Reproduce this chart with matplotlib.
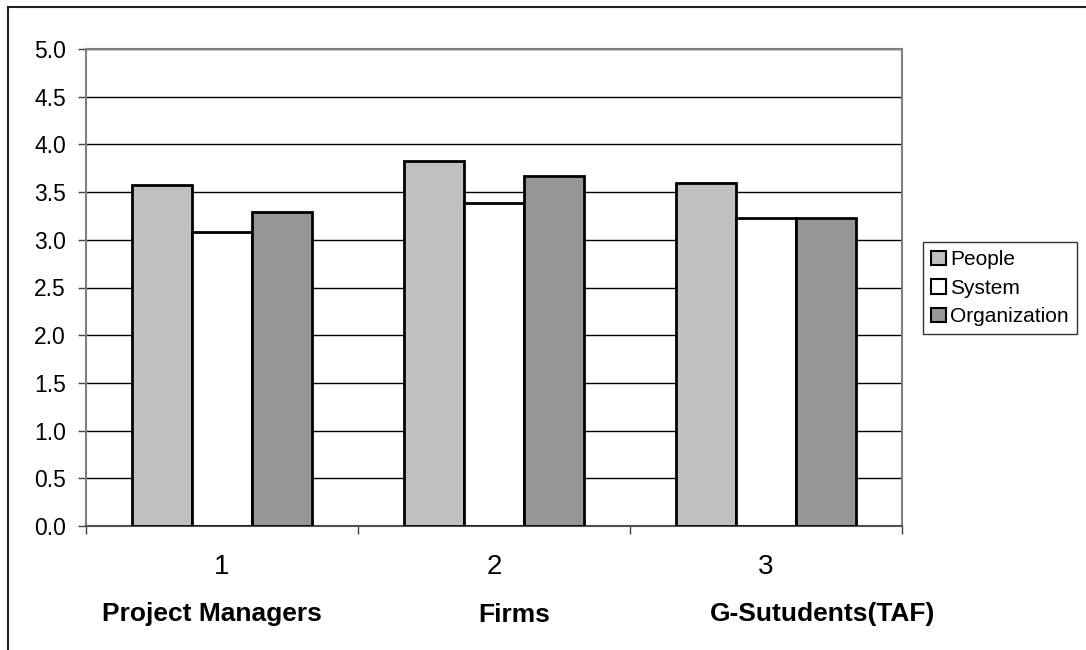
import numpy as np
import matplotlib
matplotlib.use("Agg")
import matplotlib.pyplot as plt
from matplotlib.lines import Line2D

plt.rcParams['font.family'] = ['Liberation Sans', 'DejaVu Sans']

# data
groups = ['1', '2', '3']
group_names = ['Project Managers', 'Firms', 'G-Sutudents(TAF)']
series = ['People', 'System', 'Organization']
people = [3.57, 3.83, 3.60]
system = [3.08, 3.39, 3.23]
organization = [3.29, 3.67, 3.23]
colors = ['#C0C0C0', '#FFFFFF', '#969696']
yticks = [0.0, 0.5, 1.0, 1.5, 2.0, 2.5, 3.0, 3.5, 4.0, 4.5, 5.0]

W, H = 1086, 650
fig = plt.figure(figsize=(W / 100, H / 100), dpi=100)
fig.patch.set_facecolor('white')

# plot area in pixels: x 86..902, y 49..526
ax = fig.add_axes([86 / W, 1 - 526 / H, (902 - 86) / W, (526 - 49) / H])

x = np.arange(len(groups))
bw = 0.221
for i, (vals, name) in enumerate(zip([people, system, organization], series)):
    ax.bar(x + (i - 1) * bw, vals, width=bw, color=colors[i],
           edgecolor='black', linewidth=2, label=name, zorder=3)

ax.set_xlim(-0.5, 2.5)
ax.set_ylim(0, 5)
ax.set_yticks(yticks)
ax.set_yticklabels([f'{v:.1f}' for v in yticks], fontsize=16.5)
ax.yaxis.grid(True, color='black', linewidth=1)
ax.set_axisbelow(True)

# category numbers under the groups, separators at group boundaries
ax.set_xticks(x)
ax.set_xticklabels(groups, fontsize=20)
ax.tick_params(axis='x', which='major', length=0, pad=20.5)
ax.set_xticks(np.arange(len(groups) + 1) - 0.5, minor=True)
ax.tick_params(axis='x', which='minor', direction='out', length=6,
               width=1, color='#404040')
ax.tick_params(axis='y', direction='out', length=5.5, width=1,
               color='#404040', pad=9)

for s in ax.spines.values():
    s.set_color('#808080')
    s.set_linewidth(1.5)
ax.spines['bottom'].set_color('#505050')

# group names in bold below the numbers
name_x = [212, 514, 823]
for nx, nm in zip(name_x, group_names):
    fig.text(nx / W, 1 - 621.5 / H, nm, ha='center', va='baseline',
             fontsize=19, fontweight='bold')

leg = fig.legend(loc='upper left', bbox_to_anchor=(923 / W, 1 - 242 / H),
                 fontsize=15, frameon=True, fancybox=False,
                 handlelength=0.7, handleheight=0.7, handletextpad=0.2,
                 borderpad=0.4, labelspacing=0.45, borderaxespad=0)
leg.get_frame().set_edgecolor('black')
leg.get_frame().set_linewidth(1)
for h in leg.legend_handles:
    h.set_linewidth(1.5)

# outer chart frame (only top and left edges fall inside the image)
fig.add_artist(Line2D([8 / W, 1], [1 - 7 / H, 1 - 7 / H],
                      transform=fig.transFigure, color='#202020', lw=1.5))
fig.add_artist(Line2D([8 / W, 8 / W], [0, 1 - 7 / H],
                      transform=fig.transFigure, color='#202020', lw=1.5))

fig.savefig('out.png', dpi=100)
